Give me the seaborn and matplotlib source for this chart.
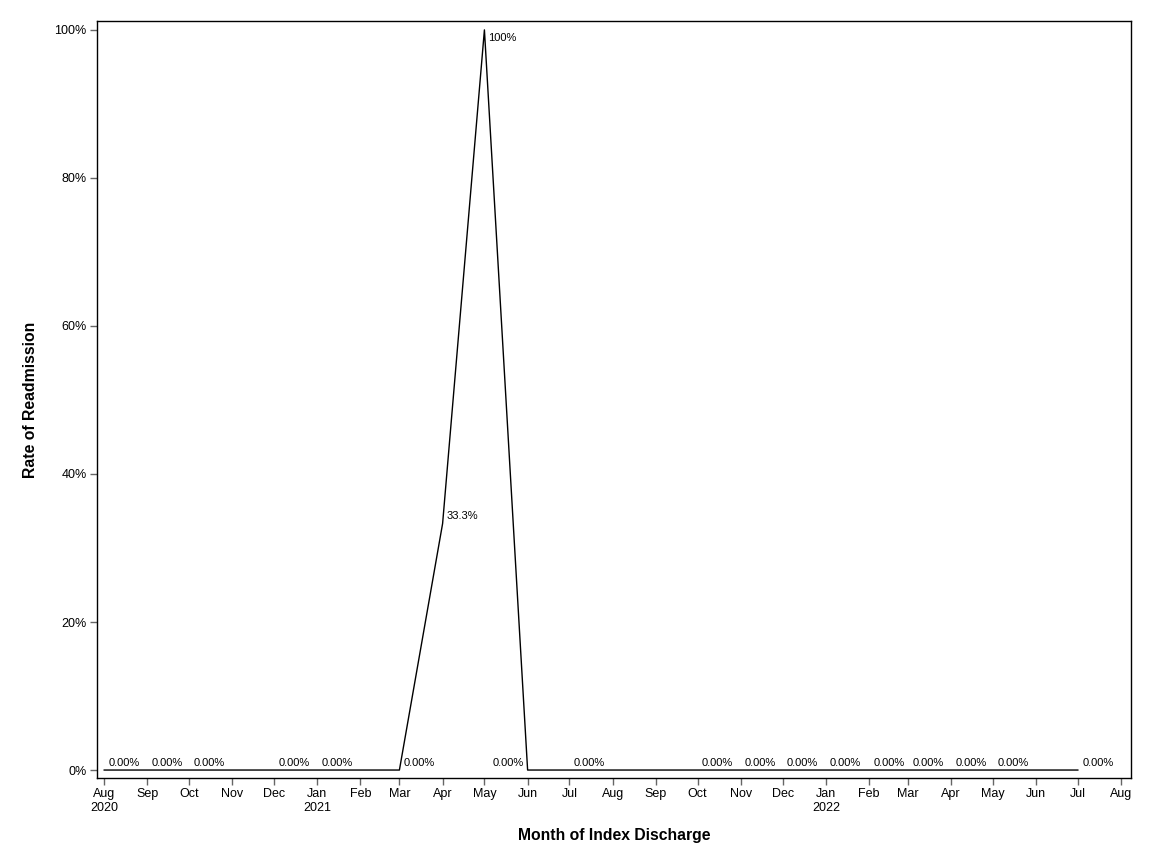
import matplotlib
matplotlib.use("Agg")
import matplotlib.pyplot as plt
import matplotlib.dates as mdates
import matplotlib.ticker as mticker
import pandas as pd
import seaborn as sns

# monthly readmission rate (only months with discharges)
months = ["2020-08", "2020-09", "2020-10", "2020-12", "2021-01", "2021-03",
          "2021-04", "2021-05", "2021-06", "2021-07", "2021-10", "2021-11",
          "2021-12", "2022-01", "2022-02", "2022-03", "2022-04", "2022-05",
          "2022-07"]
rates = [0.0, 0.0, 0.0, 0.0, 0.0, 0.0,
         0.333, 1.0, 0.0, 0.0, 0.0, 0.0,
         0.0, 0.0, 0.0, 0.0, 0.0, 0.0,
         0.0]
point_labels = ["0.00%", "0.00%", "0.00%", "0.00%", "0.00%", "0.00%",
                "33.3%", "100%", "0.00%", "0.00%", "0.00%", "0.00%",
                "0.00%", "0.00%", "0.00%", "0.00%", "0.00%", "0.00%",
                "0.00%"]

df = pd.DataFrame({"month": pd.to_datetime(months), "rate": rates, "label": point_labels})

sns.set_style("white")
plt.rcParams["font.family"] = ["Liberation Sans", "DejaVu Sans"]
plt.rcParams["text.color"] = "black"
plt.rcParams["axes.labelcolor"] = "black"

fig = plt.figure(figsize=(11.52, 8.64), dpi=100)
ax = fig.add_axes([0.0842, 0.0995, 0.8976, 0.8762])

sns.lineplot(data=df, x="month", y="rate", color="black", linewidth=1, ax=ax)

for _, row in df.iterrows():
    if row["rate"] >= 1.0:
        off, ha, va = (2.5, -2), "left", "top"
    elif row["month"] == pd.Timestamp("2021-06-01"):
        off, ha, va = (-2.5, 1.8), "right", "bottom"
    else:
        off, ha, va = (3, 1.8), "left", "bottom"
    ax.annotate(row["label"], (mdates.date2num(row["month"]), row["rate"]),
                xytext=off, textcoords="offset points", ha=ha, va=va,
                fontsize=8, color="black")

ax.set_xlim(pd.Timestamp("2020-07-27"), pd.Timestamp("2022-08-08"))
ax.set_ylim(-0.0108, 1.012)

ticks = pd.date_range("2020-08-01", "2022-08-01", freq="MS")
tick_labels = []
for t in ticks:
    lab = t.strftime("%b")
    if t == ticks[0] or t.month == 1:
        lab += "\n" + t.strftime("%Y")
    tick_labels.append(lab)
ax.set_xticks(ticks)
ax.set_xticklabels(tick_labels, fontsize=9, va="top")

ax.set_yticks([0, 0.2, 0.4, 0.6, 0.8, 1.0])
ax.yaxis.set_major_formatter(mticker.PercentFormatter(1.0, decimals=0))
ax.tick_params(axis="y", labelsize=9)
ax.tick_params(axis="both", direction="out", length=5, width=1, color="#666666",
               labelcolor="black", bottom=True, left=True, pad=2.5)

for sp in ax.spines.values():
    sp.set_color("black")
    sp.set_linewidth(1)
    sp.set_visible(True)

ax.set_xlabel("Month of Index Discharge", fontsize=11.3, fontweight="bold",
              labelpad=10, color="black")
ax.set_ylabel("Rate of Readmission", fontsize=11.3, fontweight="bold",
              labelpad=12, color="black")

fig.savefig("out.png", dpi=100)
